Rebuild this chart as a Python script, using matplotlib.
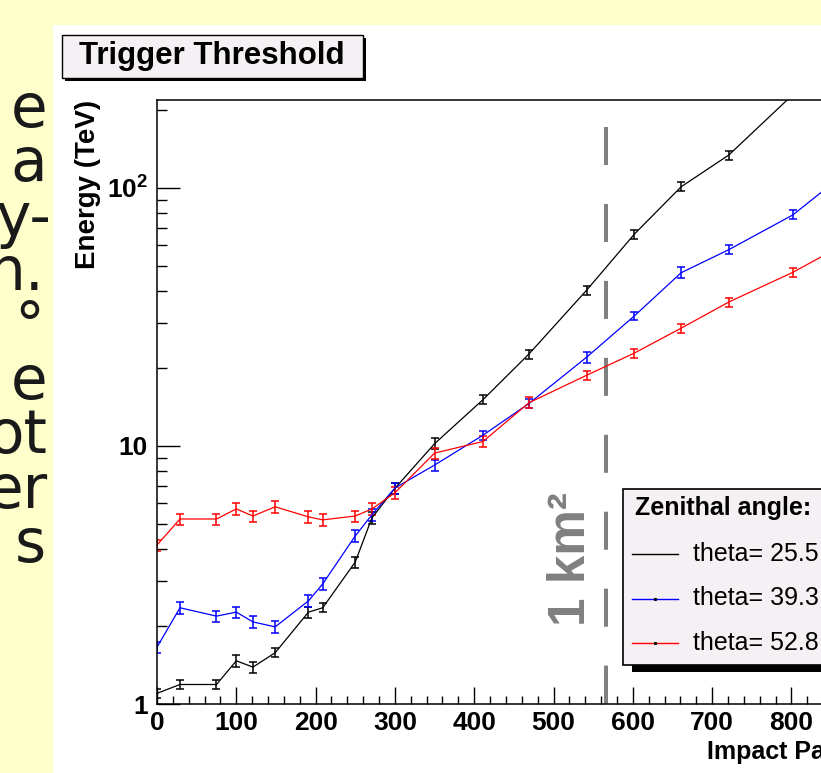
import matplotlib
matplotlib.use("Agg")
import matplotlib.pyplot as plt
from matplotlib.patches import Rectangle
from matplotlib.lines import Line2D
from matplotlib.ticker import MultipleLocator, LogLocator, FixedLocator, FixedFormatter, NullFormatter

plt.rcParams["font.family"] = "Liberation Sans"
plt.rcParams["mathtext.fontset"] = "custom"
plt.rcParams["mathtext.rm"] = "Liberation Sans"
plt.rcParams["mathtext.bf"] = "Liberation Sans:bold"
plt.rcParams["lines.scale_dashes"] = False

# trigger threshold energy (TeV) vs impact parameter (m)
black_x = [0, 29, 75, 100, 121, 149, 191, 209, 250, 271, 300, 350, 411, 469, 542, 602, 661, 721, 802]
black_e = [1.10, 1.19, 1.19, 1.47, 1.39, 1.58, 2.27, 2.36, 3.55, 5.26, 6.85, 10.2, 15.1, 22.7, 40.2, 66.2, 101, 134, 230]
black_err = [4, 4, 4, 5, 5, 4, 5, 4, 5, 5, 5, 5, 4, 4, 4, 4, 4, 4, 4]

blue_x = [0, 29, 75, 100, 121, 149, 191, 209, 250, 271, 300, 350, 411, 469, 542, 602, 661, 721, 802, 880]
blue_e = [1.66, 2.36, 2.19, 2.27, 2.08, 1.99, 2.51, 2.92, 4.48, 5.41, 6.87, 8.43, 11.0, 14.6, 22.1, 31.9, 46.9, 57.6, 78.6, 122]
blue_err = [5, 5, 5, 5, 5, 5, 5, 5, 5, 5, 5, 5, 4, 4, 5, 4, 5, 4, 4, 4]

red_x = [0, 29, 75, 100, 121, 149, 191, 209, 250, 271, 300, 350, 411, 469, 542, 602, 661, 721, 802, 880]
red_e = [4.13, 5.21, 5.21, 5.70, 5.35, 5.81, 5.31, 5.17, 5.35, 5.70, 6.58, 9.38, 10.4, 14.7, 18.8, 22.9, 28.6, 36.1, 47.1, 63.6]
red_err = [5, 5, 5, 5, 5, 5, 5, 5, 5, 5, 5, 5, 5, 5, 4, 4, 4, 4, 4, 4]

labels = ["theta= 25.5 deg", "theta= 39.3 deg", "theta= 52.8 deg"]
colors = ["#000000", "#0000ff", "#ff0000"]

side_text = ["e", "a", "y-", "n.", "°", "e", "ot", "er", "s"]
side_right = [47, 47, 51, 44, 44, 47, 48, 48, 46]

W, H = 821, 773


def fx(px):
    return px / W


def fy(py):
    return 1 - py / H


fig = plt.figure(figsize=(W / 100, H / 100), dpi=100, facecolor="#ffffcc")

# slide text partly hidden behind the plot
for i, (t, r) in enumerate(zip(side_text, side_right)):
    fig.text(fx(r), fy(127 + 54.4 * i), t, family="DejaVu Sans", fontsize=43,
             color="#1a1a1a", ha="right", va="baseline", zorder=-3)

# white canvas
fig.patches.append(Rectangle((fx(53), 0), 1, fy(25), transform=fig.transFigure,
                             facecolor="white", edgecolor="none", zorder=-2))

# plot frame runs past the right edge
ax = fig.add_axes([fx(157), fy(704), 793 / W, (704 - 100) / H])
ax.set_facecolor("white")
ax.set_yscale("log")
ax.set_xlim(0, 1000)
ax.set_ylim(1, 219)

for x, e, err, c in zip([black_x, blue_x, red_x], [black_e, blue_e, red_e],
                        [black_err, blue_err, red_err], colors):
    yerr = [v * p / 100 for v, p in zip(e, err)]
    ax.errorbar(x, e, yerr=yerr, color=c, lw=0.9, elinewidth=1.1,
                capsize=3.0, capthick=1.1)

# 1 km^2 boundary
ax.plot([566, 566], [172, 1], color="#808080", lw=2.9, dashes=(27.4, 28.0),
        solid_capstyle="butt")
ax.text(523, 3.65, "1 km²", rotation=90, color="#808080", fontsize=37,
        fontweight="bold", ha="center", va="center")

for s in ax.spines.values():
    s.set_linewidth(1.1)

ax.xaxis.set_major_locator(MultipleLocator(100))
ax.xaxis.set_minor_locator(MultipleLocator(20))
ax.yaxis.set_major_locator(FixedLocator([1, 10, 100]))
ax.yaxis.set_major_formatter(FixedFormatter(["1", "10", r"$\mathbf{10^{2}}$"]))
ax.yaxis.set_minor_locator(LogLocator(base=10, subs=range(2, 10)))
ax.yaxis.set_minor_formatter(NullFormatter())

ax.tick_params(axis="x", which="major", direction="in", length=12, width=1.0,
               pad=5, labelsize=19)
ax.tick_params(axis="x", which="minor", direction="in", length=5.5, width=1.0)
ax.tick_params(axis="y", which="major", direction="in", length=16.5, width=1.0,
               pad=6.5, labelsize=19)
ax.tick_params(axis="y", which="minor", direction="in", length=7, width=1.0)
for lab in ax.get_xticklabels() + ax.get_yticklabels():
    lab.set_fontweight("bold")

fig.text(fx(88), fy(100), "Energy (TeV)", rotation=90, fontsize=20,
         fontweight="bold", ha="center", va="top")
fig.text(fx(707), fy(752), "Impact Parameter (m)", fontsize=18,
         fontweight="bold", ha="left", va="center")

# title box with shadow
box = "#f4f0f4"
fig.patches.append(Rectangle((fx(65), fy(81)), 301 / W, 43 / H, transform=fig.transFigure,
                             facecolor="black", edgecolor="none", zorder=3))
fig.patches.append(Rectangle((fx(62), fy(78)), 301 / W, 43 / H, transform=fig.transFigure,
                             facecolor=box, edgecolor="black", lw=1.0, zorder=4))
fig.text(fx(212), fy(56), "Trigger Threshold", fontsize=22.5, fontweight="bold",
         ha="center", va="center", zorder=5)

# legend box with shadow
fig.patches.append(Rectangle((fx(632), fy(672)), 300 / W, 176 / H, transform=fig.transFigure,
                             facecolor="black", edgecolor="none", zorder=3))
fig.patches.append(Rectangle((fx(623), fy(665)), 300 / W, 176 / H, transform=fig.transFigure,
                             facecolor=box, edgecolor="black", lw=1.2, zorder=4))
fig.text(fx(635), fy(508), "Zenithal angle:", fontsize=18, fontweight="bold",
         ha="left", va="center", zorder=5)
for i, (lab, c) in enumerate(zip(labels, colors)):
    ly = fy(554 + 44.5 * i)
    fig.lines.append(Line2D([fx(632), fx(678)], [ly, ly], color=c, lw=1.0,
                            transform=fig.transFigure, zorder=5))
    if i > 0:
        fig.lines.append(Line2D([fx(655)], [ly], marker="s", ms=1.2, color="black",
                                transform=fig.transFigure, zorder=6))
    fig.text(fx(693), ly, lab, fontsize=18, ha="left", va="center", zorder=5)

fig.savefig("out.png", dpi=100, facecolor=fig.get_facecolor())
